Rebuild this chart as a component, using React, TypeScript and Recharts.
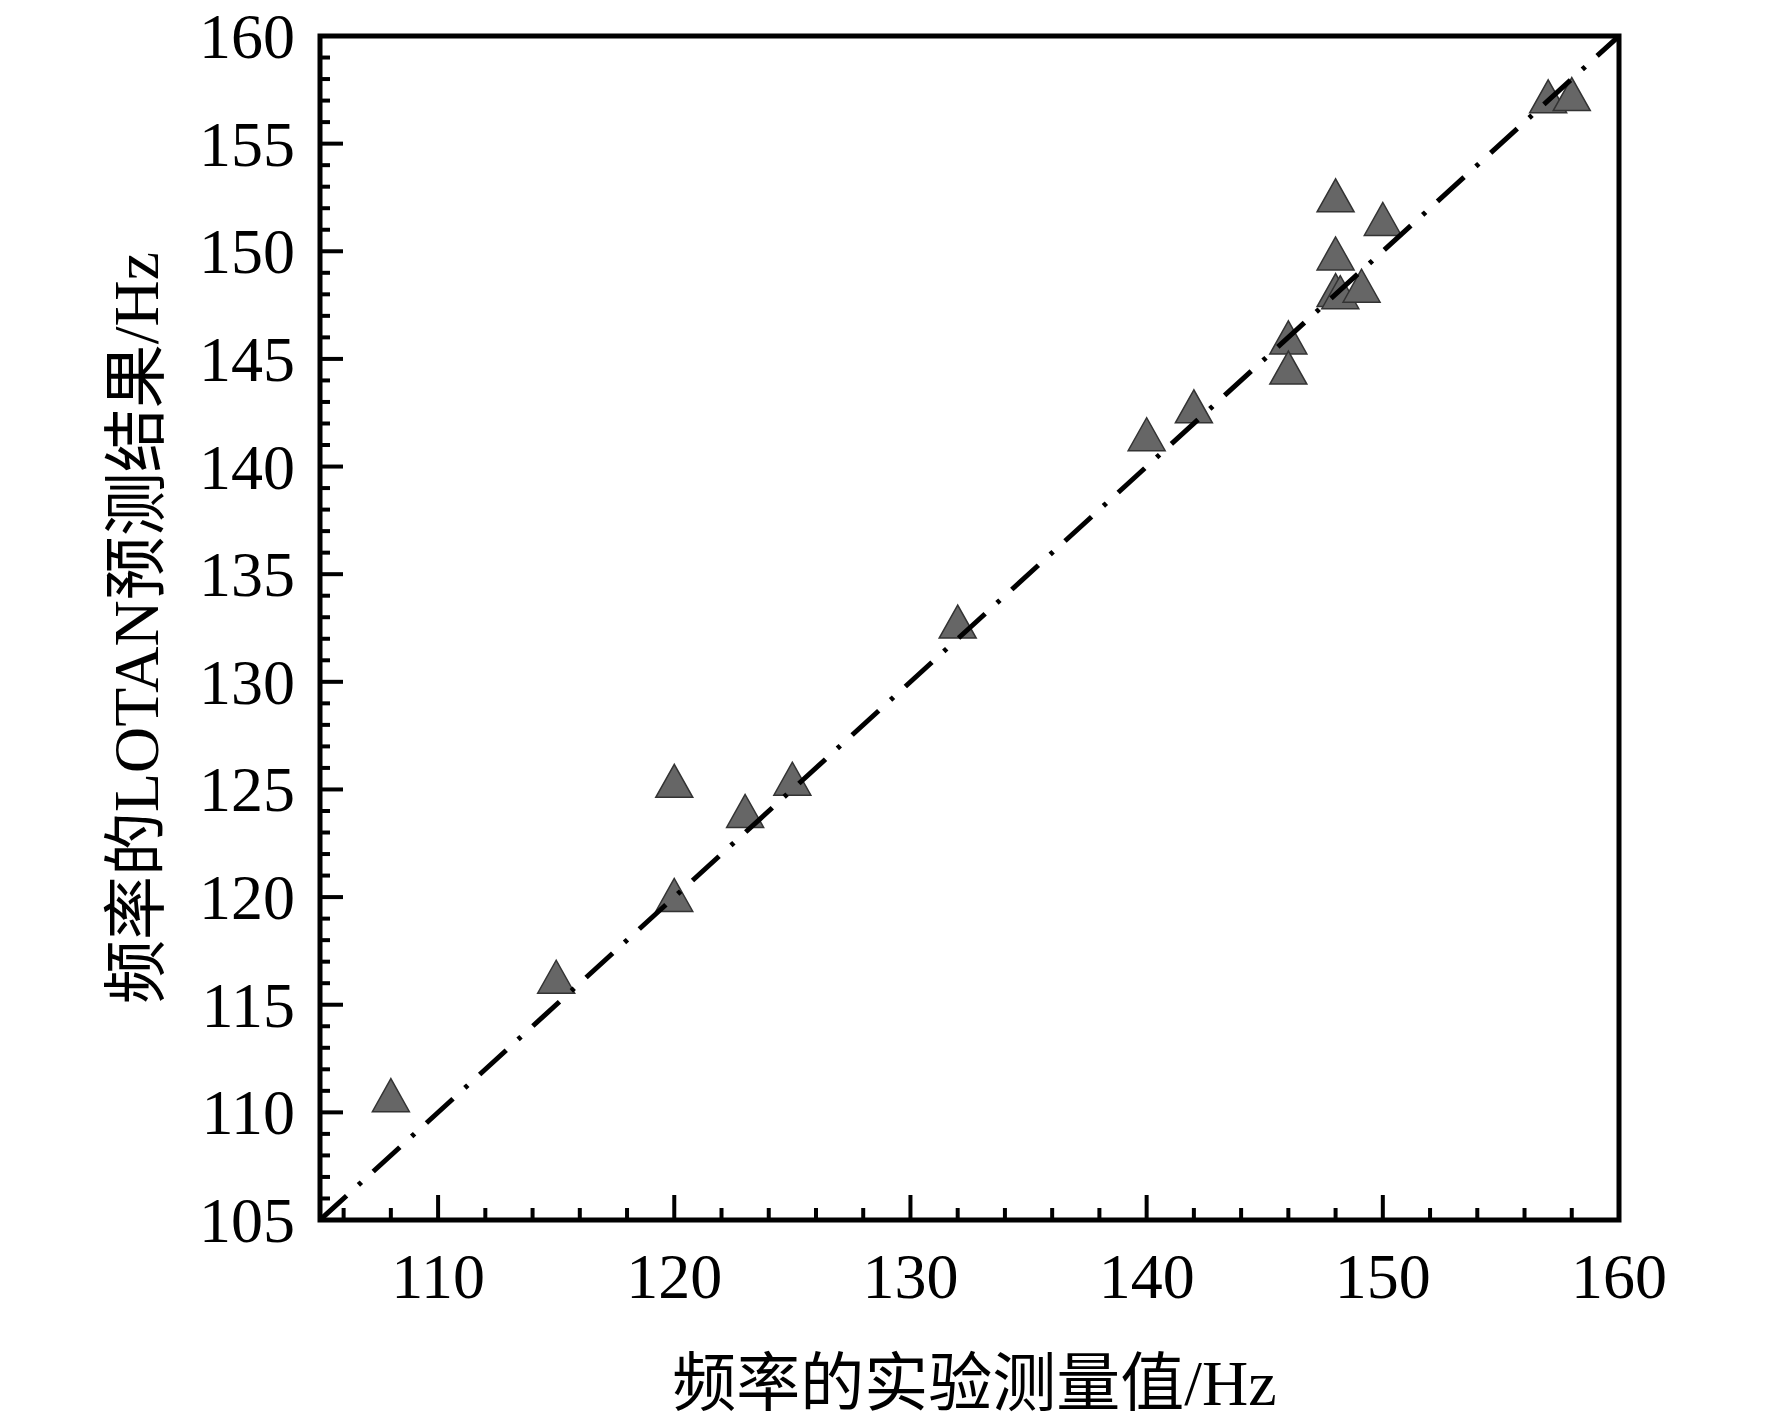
import { ScatterChart, Scatter, XAxis, YAxis, ReferenceArea, Label } from "recharts";

// ---------------------------------------------------------------------------
// Data
// ---------------------------------------------------------------------------

const measured = [
  108, 115, 120, 120, 123, 125, 132, 140, 142, 146, 146, 148, 150, 148, 148,
  148.2, 149.1, 157, 158,
];
const predicted = [
  110.8, 116.3, 125.4, 120.1, 124.0, 125.5, 132.8, 141.5, 142.8, 146.0, 144.6,
  152.6, 151.5, 149.9, 148.2, 148.1, 148.4, 157.2, 157.3,
];

// y = x reference line endpoints
const diagX = [105, 160];
const diagY = [105, 160];

const xTicks = [
  106, 108, 110, 112, 114, 116, 118, 120, 122, 124, 126, 128, 130, 132, 134,
  136, 138, 140, 142, 144, 146, 148, 150, 152, 154, 156, 158, 160,
];
const yTicks = [
  105, 106, 107, 108, 109, 110, 111, 112, 113, 114, 115, 116, 117, 118, 119,
  120, 121, 122, 123, 124, 125, 126, 127, 128, 129, 130, 131, 132, 133, 134,
  135, 136, 137, 138, 139, 140, 141, 142, 143, 144, 145, 146, 147, 148, 149,
  150, 151, 152, 153, 154, 155, 156, 157, 158, 159, 160,
];

const xTitle = "频率的实验测量值/Hz";
const yTitle = "频率的LOTAN预测结果/Hz";

const points = measured.map((x, i) => ({ x, y: predicted[i] }));
const diag = diagX.map((x, i) => ({ x, y: diagY[i] }));

// ---------------------------------------------------------------------------
// Styling
// ---------------------------------------------------------------------------

const FONT = "'Liberation Serif', 'Times New Roman', 'Noto Sans CJK SC', serif";
const TICK_FONT = 64;
const TITLE_FONT = 64;

function XTick(props: any) {
  const { x, y, payload } = props;
  const v = payload.value as number;
  const major = v % 10 === 0;
  return (
    <g>
      {v < 160 && (
        <line x1={x} x2={x} y1={y} y2={y - (major ? 25 : 12)} stroke="#000" strokeWidth={4} />
      )}
      {major && (
        <text x={x} y={y + 78} textAnchor="middle" fontSize={TICK_FONT} fontFamily={FONT} fill="#000">
          {v}
        </text>
      )}
    </g>
  );
}

function YTick(props: any) {
  const { x, y, payload } = props;
  const v = payload.value as number;
  const major = v % 5 === 0;
  return (
    <g>
      {v > 105 && v < 160 && (
        <line x1={x} x2={x + (major ? 23 : 10)} y1={y} y2={y} stroke="#000" strokeWidth={4} />
      )}
      {major && (
        <text x={x - 25} y={y + 22} textAnchor="end" fontSize={TICK_FONT} fontFamily={FONT} fill="#000">
          {v}
        </text>
      )}
    </g>
  );
}

function Triangle(props: any) {
  const { cx, cy } = props;
  const w = 37;
  const h = 33;
  return (
    <polygon
      points={`${cx},${cy - h / 2} ${cx - w / 2},${cy + h / 2} ${cx + w / 2},${cy + h / 2}`}
      fill="#666666"
      stroke="#333333"
      strokeWidth={1.5}
    />
  );
}

// ---------------------------------------------------------------------------
// Component
// ---------------------------------------------------------------------------

export default function App() {
  return (
    <div style={{ width: 1772, height: 1424, margin: -8 }}>
      <ScatterChart
        width={1772}
        height={1424}
        margin={{ top: 36, right: 153, bottom: 104, left: 220 }}
      >
        <XAxis
          type="number"
          dataKey="x"
          domain={[105, 160]}
          ticks={xTicks}
          interval={0}
          allowDataOverflow
          height={100}
          axisLine={false}
          tickLine={false}
          tickSize={0}
          tickMargin={0}
          tick={<XTick />}
        >
          <Label
            content={(p: any) => {
              const vb = p.viewBox;
              return (
                <text
                  x={vb.x + vb.width / 2 + 5}
                  y={vb.y + 163}
                  textAnchor="middle"
                  dominantBaseline="central"
                  fontSize={TITLE_FONT}
                  fontFamily={FONT}
                  fill="#000"
                >
                  {xTitle}
                </text>
              );
            }}
          />
        </XAxis>
        <YAxis
          type="number"
          dataKey="y"
          domain={[105, 160]}
          ticks={yTicks}
          interval={0}
          allowDataOverflow
          width={100}
          axisLine={false}
          tickLine={false}
          tickSize={0}
          tickMargin={0}
          tick={<YTick />}
        >
          <Label
            content={(p: any) => {
              const vb = p.viewBox;
              const cx = vb.x + vb.width - 184;
              const cy = vb.y + vb.height / 2;
              return (
                <text
                  x={cx}
                  y={cy}
                  transform={`rotate(-90 ${cx} ${cy})`}
                  textAnchor="middle"
                  dominantBaseline="central"
                  fontSize={TITLE_FONT}
                  fontFamily={FONT}
                  fill="#000"
                >
                  {yTitle}
                </text>
              );
            }}
          />
        </YAxis>
        <Scatter data={points} shape={<Triangle />} isAnimationActive={false} />
        <Scatter
          data={diag}
          line={{ stroke: "#000", strokeWidth: 5, strokeDasharray: "36 16 4 16" }}
          lineType="joint"
          shape={() => <g />}
          isAnimationActive={false}
        />
        <ReferenceArea
          x1={105}
          x2={160}
          y1={105}
          y2={160}
          fill="none"
          fillOpacity={0}
          stroke="#000"
          strokeWidth={5}
          ifOverflow="visible"
        />
      </ScatterChart>
    </div>
  );
}
